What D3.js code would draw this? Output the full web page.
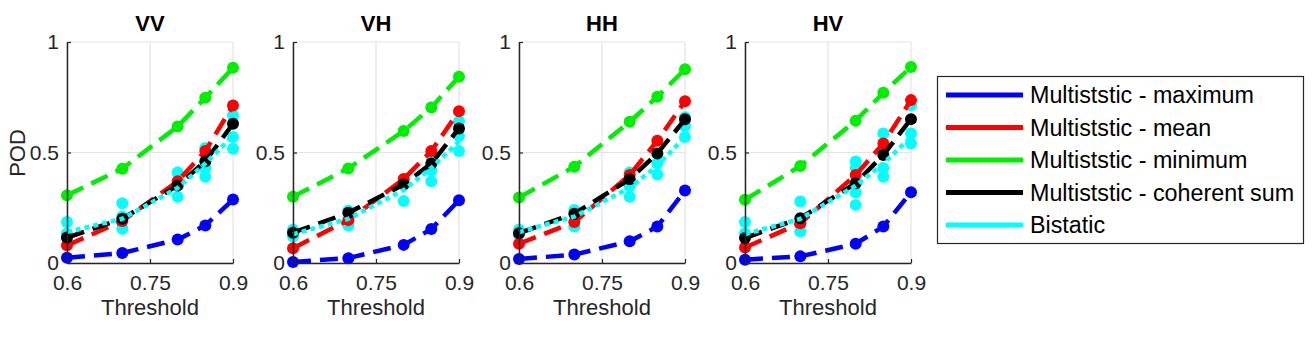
<!DOCTYPE html>
<html><head><meta charset="utf-8">
<script src="https://cdn.jsdelivr.net/npm/d3@7"></script>
<style>body{margin:0;background:#fff}svg{display:block}text{font-family:Arial,"Liberation Sans",sans-serif}</style>
</head><body><svg id="chart" width="1315" height="340"></svg>
<script>
const thresholds = [0.6, 0.7, 0.8, 0.85, 0.9];
const panels = ["VV", "VH", "HH", "HV"];
const xTicks = [0.6, 0.75, 0.9];
const xTickLabels = ["0.6", "0.75", "0.9"];
const yTicks = [0, 0.5, 1];
const yTickLabels = ["0", "0.5", "1"];
const seriesNames = ["Multiststic - maximum", "Multiststic - mean", "Multiststic - minimum", "Multiststic - coherent sum", "Bistatic"];
const seriesColors = ["#0000ff", "#ff0000", "#00ee00", "#000000", "#00ffff"];

const multiMax = [
  [0.024, 0.045, 0.106, 0.17, 0.287],
  [0.005, 0.022, 0.082, 0.154, 0.284],
  [0.018, 0.038, 0.098, 0.165, 0.328],
  [0.015, 0.03, 0.087, 0.165, 0.32]
];
const multiMean = [
  [0.08, 0.19, 0.37, 0.507, 0.713],
  [0.067, 0.194, 0.38, 0.507, 0.687],
  [0.087, 0.185, 0.398, 0.553, 0.732],
  [0.07, 0.18, 0.398, 0.541, 0.737]
];
const multiMin = [
  [0.306, 0.427, 0.618, 0.748, 0.884],
  [0.30, 0.428, 0.597, 0.704, 0.843],
  [0.296, 0.436, 0.639, 0.752, 0.877],
  [0.286, 0.439, 0.644, 0.77, 0.887]
];
const multiCoherent = [
  [0.115, 0.2, 0.351, 0.46, 0.63],
  [0.137, 0.227, 0.355, 0.45, 0.609],
  [0.135, 0.223, 0.379, 0.496, 0.65],
  [0.113, 0.203, 0.361, 0.489, 0.651]
];
const bistaticLine = [
  [0.14, 0.2, 0.34, 0.45, 0.575],
  [0.13, 0.2, 0.33, 0.43, 0.55],
  [0.14, 0.21, 0.34, 0.44, 0.57],
  [0.13, 0.2, 0.35, 0.45, 0.57]
];
const bistaticPoints = [
  [[0.186, 0.133, 0.12], [0.27, 0.21, 0.155], [0.41, 0.36, 0.3], [0.52, 0.43, 0.39], [0.668, 0.57, 0.517]],
  [[0.15, 0.12], [0.236, 0.17], [0.37, 0.28], [0.485, 0.42, 0.37], [0.64, 0.575, 0.507]],
  [[0.15, 0.13], [0.24, 0.165], [0.41, 0.346, 0.3], [0.45, 0.4], [0.66, 0.62, 0.57]],
  [[0.185, 0.135], [0.278, 0.195, 0.143], [0.459, 0.43, 0.319, 0.263], [0.586, 0.43, 0.39], [0.714, 0.586, 0.541]]
];

const svg = d3.select("#chart");
const plotTop = 42, plotBottom = 263, pw = 166;
const lefts = panels.map((p, i) => 67 + i * 226);
const y = d3.scaleLinear().domain([0, 1]).range([plotBottom, plotTop]);
const axisColor = "#262626";
const lineW = 4.5, r = 6;

panels.forEach((name, pi) => {
  const x = d3.scaleLinear().domain([0.6, 0.9]).range([lefts[pi], lefts[pi] + pw]);
  const g = svg.append("g");
  // grid
  g.selectAll(".gx").data(xTicks).enter().append("line")
    .attr("x1", d => x(d)).attr("x2", d => x(d)).attr("y1", plotTop).attr("y2", plotBottom)
    .attr("stroke", "#e3e3e3").attr("stroke-width", 1.2);
  g.selectAll(".gy").data(yTicks).enter().append("line")
    .attr("x1", x(0.6)).attr("x2", x(0.9)).attr("y1", d => y(d)).attr("y2", d => y(d))
    .attr("stroke", "#e3e3e3").attr("stroke-width", 1.2);

  const line = d3.line().x((d, i) => x(thresholds[i])).y(d => y(d));

  // bistatic scatter points (under)
  const pts = [];
  bistaticPoints[pi].forEach((arr, ti) => arr.forEach(v => pts.push([thresholds[ti], v])));
  g.selectAll(".bp").data(pts).enter().append("circle")
    .attr("cx", d => x(d[0])).attr("cy", d => y(d[1])).attr("r", r).attr("fill", seriesColors[4]);

  const multi = [multiMax[pi], multiMean[pi], multiMin[pi], multiCoherent[pi]];
  multi.forEach((vals, si) => {
    g.append("path").attr("d", line(vals)).attr("fill", "none")
      .attr("stroke", seriesColors[si]).attr("stroke-width", lineW)
      .attr("stroke-dasharray", "18,9");
    g.selectAll(".m" + si).data(vals).enter().append("circle")
      .attr("cx", (d, i) => x(thresholds[i])).attr("cy", d => y(d)).attr("r", r)
      .attr("fill", seriesColors[si]);
  });
  // bistatic dotted line (top)
  g.append("path").attr("d", line(bistaticLine[pi])).attr("fill", "none")
    .attr("stroke", seriesColors[4]).attr("stroke-width", lineW)
    .attr("stroke-dasharray", "5,4");

  // axes
  const xAxis = d3.axisBottom(x).tickValues(xTicks).tickFormat((d, i) => xTickLabels[i]).tickSizeInner(-4).tickSizeOuter(0).tickPadding(12);
  const yAxis = d3.axisLeft(y).tickValues(yTicks).tickFormat((d, i) => yTickLabels[i]).tickSizeInner(-4).tickSizeOuter(0).tickPadding(8);
  const gx = g.append("g").attr("transform", `translate(0,${plotBottom})`).call(xAxis);
  const gy = g.append("g").attr("transform", `translate(${lefts[pi]},0)`).call(yAxis);
  [gx, gy].forEach(a => {
    a.select(".domain").attr("stroke", axisColor).attr("stroke-width", 1.5);
    a.selectAll(".tick line").attr("stroke", axisColor).attr("stroke-width", 1.2);
    a.selectAll(".tick text").attr("fill", "#262626").attr("font-size", 21)
      .attr("font-family", "Arial, 'Liberation Sans', sans-serif");
  });
  gx.selectAll(".tick text").attr("dy", "0.71em");

  g.append("text").attr("x", x(0.75)).attr("y", 315).attr("text-anchor", "middle")
    .attr("font-size", 22).attr("fill", "#262626").text("Threshold");
  g.append("text").attr("x", x(0.75)).attr("y", 31).attr("text-anchor", "middle")
    .attr("font-size", 22).attr("font-weight", "bold").attr("fill", "#000").text(name);
});

svg.append("text").attr("transform", "translate(25,153) rotate(-90)").attr("text-anchor", "middle")
  .attr("font-size", 22).attr("fill", "#262626").text("POD");

// legend
const lg = svg.append("g");
lg.append("rect").attr("x", 937.5).attr("y", 76.5).attr("width", 366).attr("height", 167)
  .attr("fill", "#fff").attr("stroke", "#262626").attr("stroke-width", 1.2);
const ly = d3.scalePoint().domain(seriesNames).range([95, 225]);
seriesNames.forEach((n, i) => {
  lg.append("line").attr("x1", 946).attr("x2", 1023).attr("y1", ly(n)).attr("y2", ly(n))
    .attr("stroke", seriesColors[i]).attr("stroke-width", 5);
  lg.append("text").attr("x", 1030).attr("y", ly(n) + 8).attr("font-size", 23.3)
    .attr("fill", "#000").text(n);
});
</script></body></html>
